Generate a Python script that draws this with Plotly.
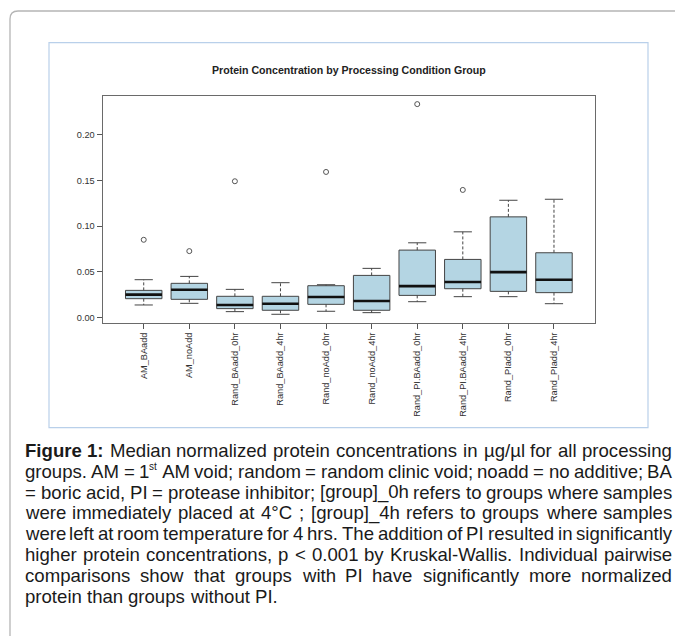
import plotly.graph_objects as go

# ---------------- data ----------------
groups = ["AM_BAadd", "AM_noAdd", "Rand_BAadd_0hr", "Rand_BAadd_4hr",
          "Rand_noAdd_0hr", "Rand_noAdd_4hr", "Rand_PI.BAadd_0hr",
          "Rand_PI.BAadd_4hr", "Rand_PIadd_0hr", "Rand_PIadd_4hr"]
lower_whisker = [0.0135, 0.0153, 0.0062, 0.0033, 0.0066, 0.0051, 0.0171, 0.0226, 0.0226, 0.0149]
q1 = [0.0204, 0.0197, 0.0095, 0.0077, 0.0142, 0.0077, 0.0240, 0.0313, 0.0284, 0.0270]
median = [0.0248, 0.0302, 0.0135, 0.0149, 0.0222, 0.0179, 0.0342, 0.0386, 0.0495, 0.0412]
q3 = [0.0295, 0.0372, 0.0230, 0.0230, 0.0346, 0.0459, 0.0736, 0.0634, 0.1100, 0.0707]
upper_whisker = [0.0412, 0.0448, 0.0306, 0.0379, 0.0357, 0.0536, 0.0816, 0.0936, 0.1282, 0.1293]
outlier_group = ["AM_BAadd", "AM_noAdd", "Rand_BAadd_0hr", "Rand_noAdd_0hr",
                 "Rand_PI.BAadd_0hr", "Rand_PI.BAadd_4hr"]
outlier_value = [0.0849, 0.0725, 0.149, 0.1592, 0.2335, 0.1395]
y_ticks = [0.00, 0.05, 0.10, 0.15, 0.20]

title = "Protein Concentration by Processing Condition Group"
# "|" separates words; "^" marks a superscript suffix
caption_lines = [
    "<b>Figure 1:</b>|Median|normalized|protein|concentrations|in|µg/µl|for|all|processing",
    "groups.|AM|=|1^st AM|void;|random|=|random|clinic|void;|noadd|=|no|additive;|BA",
    "=|boric|acid,|PI|=|protease|inhibitor;|[group]_0h|refers|to|groups|where|samples",
    "were|immediately|placed|at|4°C|;|[group]_4h|refers|to|groups|where|samples",
    "were|left|at|room|temperature|for|4|hrs.|The|addition|of|PI|resulted|in|significantly",
    "higher|protein|concentrations,|p|<|0.001|by|Kruskal-Wallis.|Individual|pairwise",
    "comparisons|show|that|groups|with|PI|have|significantly|more|normalized",
    "protein|than|groups|without|PI.",
]

# ---------------- page geometry (pixels) ----------------
W, H = 675, 636
def px(x): return x / W
def py(y): return 1 - y / H

plot_l, plot_r, plot_t, plot_b = 102.7, 595.0, 95.7, 322.7
FONT = "Liberation Sans, Arial, sans-serif"
BOX_FILL = "#b4d5e3"
DARK = "#444444"

pos = list(range(1, len(groups) + 1))
pos_of = {g: p for g, p in zip(groups, pos)}

fig = go.Figure()

# boxes (whiskers drawn separately, R style)
fig.add_trace(go.Box(
    x=pos, q1=q1, median=median, q3=q3, lowerfence=q1, upperfence=q3,
    width=0.8, whiskerwidth=0, boxpoints=False,
    fillcolor=BOX_FILL, line=dict(color=DARK, width=1), hoverinfo="skip"))

# dashed whiskers
wx, wy = [], []
for p, lo, a, b, hi in zip(pos, lower_whisker, q1, q3, upper_whisker):
    wx += [p, p, None, p, p, None]
    wy += [b, hi, None, a, lo, None]
fig.add_trace(go.Scatter(x=wx, y=wy, mode="lines",
                         line=dict(color=DARK, width=1, dash="3px,2px"), hoverinfo="skip"))

# staples
sx, sy = [], []
for p, lo, hi in zip(pos, lower_whisker, upper_whisker):
    sx += [p - 0.2, p + 0.2, None, p - 0.2, p + 0.2, None]
    sy += [hi, hi, None, lo, lo, None]
fig.add_trace(go.Scatter(x=sx, y=sy, mode="lines",
                         line=dict(color=DARK, width=1), hoverinfo="skip"))

# thick medians
mx, my = [], []
for p, m in zip(pos, median):
    mx += [p - 0.4, p + 0.4, None]
    my += [m, m, None]
fig.add_trace(go.Scatter(x=mx, y=my, mode="lines",
                         line=dict(color="#111111", width=2.6), hoverinfo="skip"))

# outliers
fig.add_trace(go.Scatter(x=[pos_of[g] for g in outlier_group], y=outlier_value, mode="markers",
                         marker=dict(symbol="circle-open", size=5, color="#555555",
                                     line=dict(width=1, color="#555555")),
                         hoverinfo="skip"))

# R-like axis ranges (4% extension)
all_vals = lower_whisker + upper_whisker + outlier_value
vmin, vmax = min(all_vals), max(all_vals)
ext = 0.04 * (vmax - vmin)
n = len(groups)
xr = [0.5 - 0.04 * n, n + 0.5 + 0.04 * n]

# ---------------- caption (justified, word by word) ----------------
AW = {' ': 278, '!': 278, '(': 333, ')': 333, ',': 278, '-': 333, '.': 278, '/': 278,
      ':': 278, ';': 278, '<': 584, '=': 584, '>': 584, '[': 278, ']': 278, '_': 556,
      '°': 400, 'µ': 556,
      'A': 667, 'B': 667, 'C': 722, 'D': 722, 'E': 667, 'F': 611, 'G': 778, 'H': 722,
      'I': 278, 'J': 500, 'K': 667, 'L': 556, 'M': 833, 'N': 722, 'O': 778, 'P': 667,
      'Q': 778, 'R': 722, 'S': 667, 'T': 611, 'U': 722, 'V': 667, 'W': 944, 'X': 667,
      'Y': 667, 'Z': 611,
      'a': 556, 'b': 556, 'c': 500, 'd': 556, 'e': 556, 'f': 278, 'g': 556, 'h': 556,
      'i': 222, 'j': 222, 'k': 500, 'l': 222, 'm': 833, 'n': 556, 'o': 556, 'p': 556,
      'q': 556, 'r': 333, 's': 500, 't': 278, 'u': 556, 'v': 500, 'w': 722, 'x': 500,
      'y': 500, 'z': 500}
BW = {' ': 278, 'F': 611, 'i': 278, 'g': 611, 'u': 611, 'r': 389, 'e': 556, '1': 556, ':': 333}
for d in "0123456789":
    AW[d] = 556

CAP_SIZE = 18.6
SUP_SIZE = 10.0

def plain_width(s, size, bold=False):
    tbl = BW if bold else AW
    return sum(tbl.get(ch, 556) for ch in s) / 1000.0 * size

def word_parts(word):
    """Split a word into (text, size, dy, bold) pieces."""
    if word.startswith("<b>"):
        inner = word[3:-4]
        return [(inner, CAP_SIZE, 0.0, True)]
    if "^" in word:
        base, rest = word.split("^", 1)
        sup, tail = rest.split(" ", 1)
        return [(base, CAP_SIZE, 0.0, False), (sup, SUP_SIZE, -4.5, False),
                (" " + tail, CAP_SIZE, 0.0, False)]
    return [(word, CAP_SIZE, 0.0, False)]

def word_width(word):
    return sum(plain_width(t, s, b) for t, s, _, b in word_parts(word))

cap_l, cap_r = 24.0, 671.0
line0, line_gap = 452.0, 20.8
annotations = []
for k, line in enumerate(caption_lines):
    words = line.split("|")
    widths = [word_width(w) for w in words]
    last = (k == len(caption_lines) - 1)
    if last or len(words) < 2:
        gap = 0.278 * CAP_SIZE
    else:
        gap = (cap_r - cap_l - sum(widths)) / (len(words) - 1)
    x = cap_l
    yc = line0 + k * line_gap - 1.6
    for w, wd in zip(words, widths):
        xx = x
        for t, s, dy, b in word_parts(w):
            txt = f"<b>{t}</b>" if b else t.replace(" ", "\u00a0")
            annotations.append(dict(x=px(xx), y=py(yc + dy), xref="paper", yref="paper",
                                    text=txt, showarrow=False, xanchor="left", yanchor="middle",
                                    borderpad=0,
                                    font=dict(family=FONT, size=s, color="#1a1a1a")))
            xx += plain_width(t, s, b)
        x += wd + gap

# chart title
annotations.append(dict(x=px((plot_l + plot_r) / 2), y=py(70), xref="paper", yref="paper",
                        text="<b>" + title + "</b>", showarrow=False,
                        xanchor="center", yanchor="middle",
                        font=dict(family=FONT, size=10.6, color="#222222")))

# decorations: page border and image border
shapes = [
    dict(type="path", xref="paper", yref="paper",
         path=f"M {px(10)},{py(640)} L {px(10)},{py(19)} Q {px(10)},{py(11)} {px(18)},{py(11)} L {px(680)},{py(11)}",
         line=dict(color="#b5b5b5", width=1.3)),
    dict(type="rect", xref="paper", yref="paper",
         x0=px(49), x1=px(648), y0=py(42.7), y1=py(427.7),
         line=dict(color="#b9d0ea", width=1.2)),
]

fig.update_layout(
    template="none",
    width=W, height=H,
    margin=dict(l=0, r=0, t=0, b=0),
    paper_bgcolor="white", plot_bgcolor="white",
    showlegend=False,
    annotations=annotations,
    shapes=shapes,
    xaxis=dict(domain=[px(plot_l), px(plot_r)], range=xr,
               tickvals=pos, ticktext=groups, tickangle=-90,
               ticks="outside", ticklen=5, tickcolor="#555555", tickwidth=1,
               showline=True, mirror=True, linecolor="#6a6a6a", linewidth=1.2,
               showgrid=False, zeroline=False,
               tickfont=dict(family=FONT, size=9.2, color="#333333")),
    yaxis=dict(domain=[py(plot_b), py(plot_t)], range=[vmin - ext, vmax + ext],
               tickvals=y_ticks, tickformat=".2f",
               ticks="outside", ticklen=5, tickcolor="#555555", tickwidth=1,
               showline=True, mirror=True, linecolor="#6a6a6a", linewidth=1.2,
               showgrid=False, zeroline=False,
               tickfont=dict(family=FONT, size=9.2, color="#333333")),
)

fig.write_html(
    "out.html",
    config={"displayModeBar": False, "staticPlot": True},
    post_script="document.body.style.margin='0';document.body.style.padding='0';"
                "document.documentElement.style.overflow='hidden';document.body.style.overflow='hidden';",
)
